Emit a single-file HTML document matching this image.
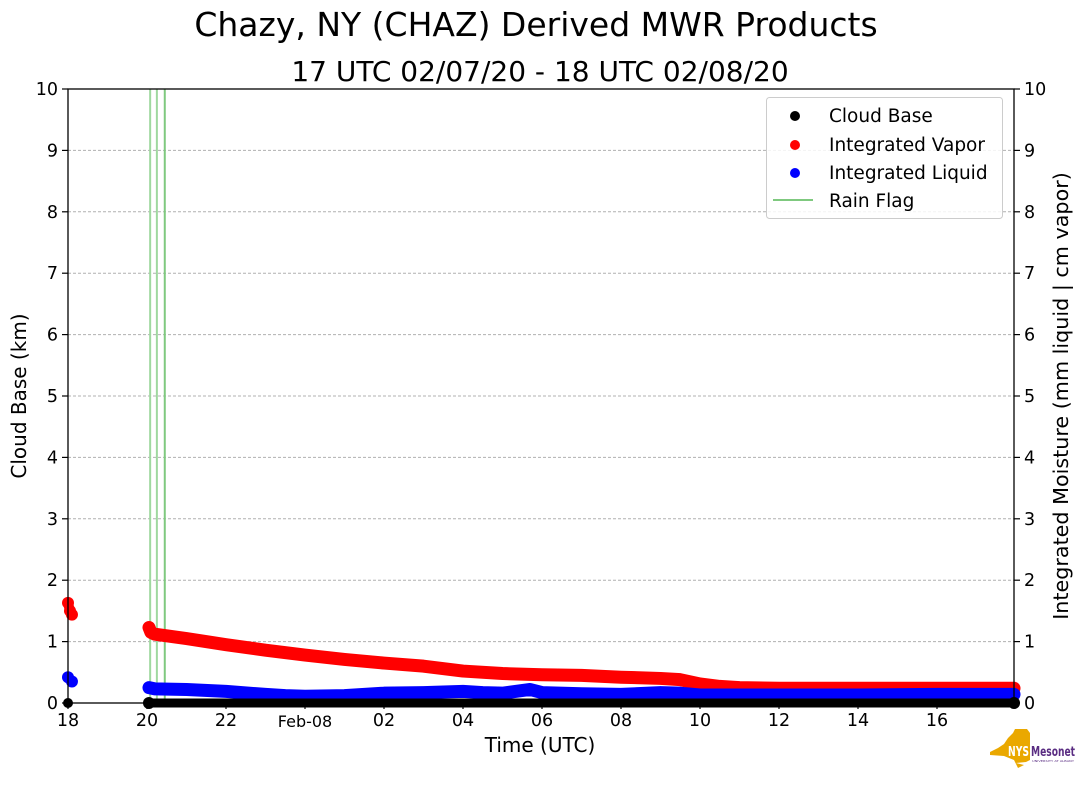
<!DOCTYPE html>
<html><head><meta charset="utf-8">
<style>
html,body{margin:0;padding:0;background:#fff;}
svg text{font-family:"DejaVu Sans","Liberation Sans",sans-serif;fill:#000;}
</style></head>
<body>
<svg width="1089" height="804" xmlns="http://www.w3.org/2000/svg" id="chart">
<text x="536" y="36" font-size="33" text-anchor="middle">Chazy, NY (CHAZ) Derived MWR Products</text>
<text x="540" y="81" font-size="28" text-anchor="middle">17 UTC 02/07/20 - 18 UTC 02/08/20</text>
<g id="grid"></g>
<g id="rain"></g>
<g id="series"></g>
<rect x="68" y="89" width="946" height="614" fill="none" stroke="#000" stroke-width="1.3"/>
<g id="axes"></g>
<text x="540" y="752" font-size="20" text-anchor="middle">Time (UTC)</text>
<text transform="translate(26,396) rotate(-90)" font-size="20" text-anchor="middle">Cloud Base (km)</text>
<text transform="translate(1068,396) rotate(-90)" font-size="20.7" text-anchor="middle">Integrated Moisture (mm liquid | cm vapor)</text>
<g>
<rect x="766.5" y="97.5" width="236" height="121" rx="3" fill="#fff" fill-opacity="0.85" stroke="#ccc"/>
<circle cx="795" cy="116" r="5" fill="#000"/>
<text x="829" y="122" font-size="18.5">Cloud Base</text>
<circle cx="795" cy="145" r="5" fill="#f00"/>
<text x="829" y="151" font-size="18.5">Integrated Vapor</text>
<circle cx="795" cy="173" r="5" fill="#00f"/>
<text x="829" y="179" font-size="18.5">Integrated Liquid</text>
<line x1="773" y1="200" x2="813" y2="200" stroke="#7fc97f" stroke-width="2"/>
<text x="829" y="207" font-size="18.5">Rain Flag</text>
</g>
<g>
<path d="M990,752 L998,748 L1004,744 L1008,738 L1013,733 L1015,729 L1027,729 L1030,733 L1030,752 L1030,760 L1026,762 L1016,763 L1024,765 L1018,768 L1014,760 L1004,756 L990,755 Z" fill="#eaa800"/>
<text x="1008" y="756" font-size="13" font-weight="bold" textLength="21" lengthAdjust="spacingAndGlyphs" style="fill:#fff">NYS</text>
<text x="1031" y="756" font-size="13" font-weight="bold" textLength="44" lengthAdjust="spacingAndGlyphs" style="fill:#5a2d82">Mesonet</text>
<text x="1032" y="762" font-size="3" textLength="42" lengthAdjust="spacingAndGlyphs" style="fill:#5a2d82">UNIVERSITY AT ALBANY</text>
</g>
</svg>
<script>
// Data (hours since 18 UTC 02/07)
const vaporInitT = [0.0, 0.05, 0.1];
const vaporInitV = [1.63, 1.5, 1.44];
const liquidInitT = [0.0, 0.1];
const liquidInitV = [0.42, 0.35];
const vaporT = [2.05, 2.1, 2.2, 3, 4, 5, 6, 7, 8, 9, 10, 11, 12, 13, 14, 15, 15.5, 16, 16.5, 17, 18, 20, 22, 23.95];
const vaporV = [1.23, 1.15, 1.12, 1.05, 0.95, 0.86, 0.78, 0.71, 0.65, 0.6, 0.52, 0.48, 0.46, 0.45, 0.42, 0.4, 0.38, 0.31, 0.27, 0.25, 0.24, 0.24, 0.24, 0.24];
const liquidT = [2.05, 2.2, 3, 4, 5, 5.5, 6, 7, 8, 9, 10, 10.5, 11, 11.7, 12, 13, 14, 15, 15.5, 16, 18, 20, 22, 23.95];
const liquidV = [0.25, 0.23, 0.22, 0.19, 0.14, 0.12, 0.11, 0.12, 0.16, 0.17, 0.19, 0.17, 0.16, 0.22, 0.17, 0.15, 0.14, 0.17, 0.16, 0.13, 0.13, 0.13, 0.14, 0.14];
const cloudT = [2.05, 23.95];
const cloudV = [0.0, 0.0];
const rainT = [2.08, 2.25, 2.45];
const xTickHours = [0, 2, 4, 6, 8, 10, 12, 14, 16, 18, 20, 22];
const xTickLabels = ["18", "20", "22", "Feb-08", "02", "04", "06", "08", "10", "12", "14", "16"];
const yTicks = [0, 1, 2, 3, 4, 5, 6, 7, 8, 9, 10];

const NS = "http://www.w3.org/2000/svg";
const X0 = 68, PXH = 39.5, Y0 = 703, PXU = 61.4;
const xs = h => X0 + h * PXH;
const ys = v => Y0 - v * PXU;
function mk(tag, attrs, parent) {
  const e = document.createElementNS(NS, tag);
  for (const k in attrs) e.setAttribute(k, attrs[k]);
  parent.appendChild(e);
  return e;
}
const grid = document.getElementById('grid');
const axes = document.getElementById('axes');
yTicks.forEach(v => {
  if (v > 0 && v < 10) {
    const g = mk('line', {x1: 68, x2: 1014, y1: ys(v), y2: ys(v), stroke: '#b0b0b0', 'stroke-dasharray': '3,2', 'stroke-width': 1}, grid);
    
    
  }
  [[62, 68, 58, 'end'], [1014, 1020, 1024, 'start']].forEach(([a, b, tx, anc]) => {
    const t = mk('line', {x1: a, x2: b, y1: ys(v), y2: ys(v), stroke: '#000', 'stroke-width': 1.2}, axes);
    
    
    const l = mk('text', {x: tx, y: ys(v) + 6, 'font-size': 17.5, 'text-anchor': anc}, axes);
    l.textContent = v;
    
    
  });
});
xTickHours.forEach((h, i) => {
  const t = mk('line', {x1: xs(h), x2: xs(h), y1: 703, y2: 709, stroke: '#000', 'stroke-width': 1.2}, axes);
  
  
  const lab = xTickLabels[i];
  const l = mk('text', {x: xs(h), y: lab === 'Feb-08' ? 727 : 726, 'font-size': lab === 'Feb-08' ? 16 : 17.5, 'text-anchor': 'middle'}, axes);
  l.textContent = lab;
  
  
});
const rain = document.getElementById('rain');
rainT.forEach((h, i) => {
  const l = mk('line', {x1: xs(h), x2: xs(h), y1: 89, y2: 703, stroke: i === 2 ? '#7fc97f' : '#9fd89f', 'stroke-width': 2}, rain);
  
  
});
const ser = document.getElementById('series');
function drawSeries(T, V, color, name, w) {
  const pts = T.map((t, i) => xs(t) + ',' + ys(V[i])).join(' ');
  if (T.length > 1) {
    const p = mk('polyline', {points: pts, fill: 'none', stroke: color, 'stroke-width': w, 'stroke-linejoin': 'round', 'stroke-linecap': 'round'}, ser);
    
    
  }
  T.forEach((t, i) => {
    const c = mk('circle', {cx: xs(t), cy: ys(V[i]), r: 6, fill: color}, ser);
    
    
  });
}
drawSeries(vaporInitT, vaporInitV, '#f00', 'vapor-initial', 10);
drawSeries(vaporT, vaporV, '#f00', 'vapor', 13);
drawSeries(liquidInitT, liquidInitV, '#00f', 'liquid-initial', 10);
drawSeries(liquidT, liquidV, '#00f', 'liquid', 13);
drawSeries(cloudT, cloudV, '#000', 'cloud-base', 9);
const c0 = mk('circle', {cx: xs(0), cy: ys(0), r: 5, fill: '#000'}, ser);


</script>
</body></html>
